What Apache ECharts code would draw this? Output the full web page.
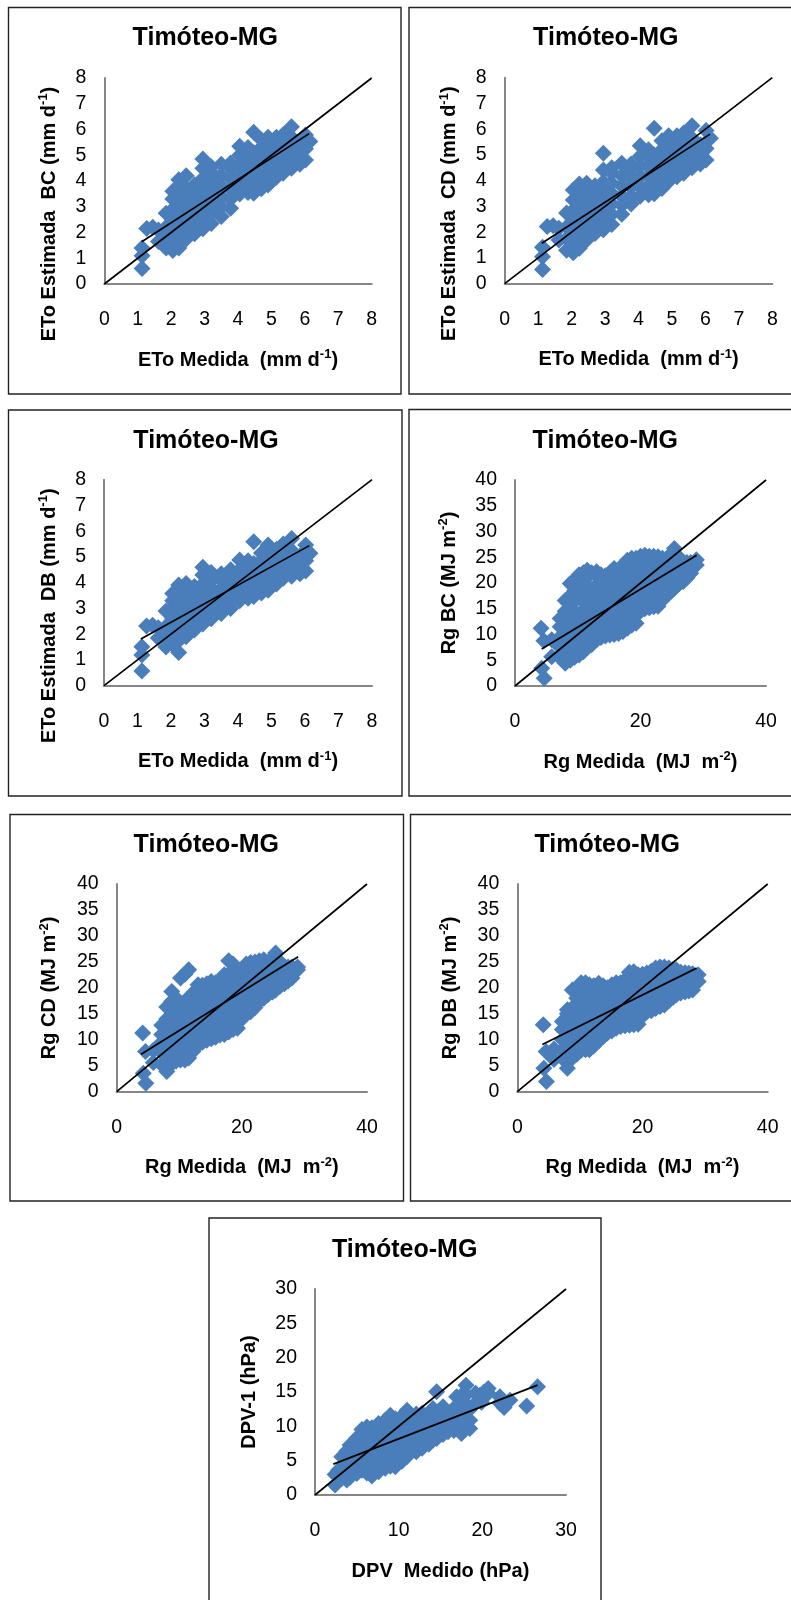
<!DOCTYPE html>
<html><head><meta charset="utf-8">
<style>html,body{margin:0;padding:0;background:#fff}#c{width:791px;height:1600px}</style>
<script src="https://cdn.jsdelivr.net/npm/echarts@6/dist/echarts.min.js"></script>
</head><body><div id="c"></div>
<script>
const chartTitle='Timóteo-MG';
// ETo: measured value of each column of points, then estimated values in that column
const etoX=[1.13,1.27,1.45,1.62,1.85,2.05,2.23,2.45,2.7,2.95,3.2,3.5,3.78,4.05,4.3,4.47,4.7,4.9,5.15,5.35,5.6,5.85,6.02,6.15];
const etoBC=[[0.6,1.1,1.4],[2.16],[2.2],[1.65,2.1],[1.4,1.8,2.2,2.75],[1.3,1.7,2.1,2.5,2.9,3.3,3.6],[1.4,1.8,2.2,2.6,3.0,3.4,3.8,4.05],[1.75,2.1,2.5,2.9,3.3,3.7,4.2],[1.95,2.35,2.75,3.15,3.55,3.85],[2.15,2.5,2.9,3.3,3.7,4.1,4.5,4.85],[2.35,2.75,3.15,3.55,3.95,4.35,4.55],[2.62,3.0,3.4,3.8,4.2,4.65],[2.94,3.3,3.7,4.1,4.5,4.7],[3.5,3.8,4.2,4.6,5.0,5.35],[3.55,3.95,4.35,4.75,5.15,5.3],[3.52,3.9,4.3,4.7,5.1,5.89],[3.7,4.1,4.5,4.9,5.3,5.6],[3.84,4.25,4.65,5.05,5.45,5.7],[4.15,4.55,4.95,5.35,5.7],[4.3,4.7,5.1,5.5,5.8],[4.5,4.9,5.3,5.7,6.11],[4.65,5.05,5.45],[4.82,5.25,5.79],[5.53]];
const etoCD=[[0.55,1.05,1.42],[2.22],[2.25],[1.7,2.15],[1.3,1.75,2.2,2.75],[1.2,1.65,2.05,2.45,2.85,3.25,3.64],[1.38,1.75,2.15,2.55,2.95,3.3,3.65,3.87],[1.7,2.1,2.5,2.9,3.25,3.6,3.9],[1.95,2.3,2.7,3.1,3.45,3.8],[2.1,2.5,2.85,3.25,3.6,3.95,4.42,5.07],[2.3,2.7,3.1,3.5,3.9,4.3,4.5],[2.7,3.05,3.4,3.8,4.2,4.68],[3.1,3.4,3.75,4.1,4.45,4.65],[3.4,3.75,4.15,4.55,4.95,5.36],[3.45,3.8,4.2,4.6,4.95,5.2],[3.49,3.85,4.25,4.65,5.0,6.04],[3.7,4.05,4.45,4.85,5.2,5.55],[3.97,4.35,4.7,5.1,5.45,5.75],[4.15,4.5,4.9,5.3,5.75],[4.29,4.65,5.05,5.45,5.85],[4.5,4.85,5.25,5.65,6.13],[4.65,5.0,5.4],[4.8,5.25,5.95],[5.65]];
const etoDB=[[0.57,1.19,1.51],[2.32],[2.35],[1.85,2.25],[1.5,1.9,2.3,2.9],[1.6,1.9,2.2,2.6,2.95,3.3,3.58],[1.29,1.75,2.15,2.5,2.85,3.2,3.55,3.91],[1.9,2.2,2.5,2.85,3.2,3.55,3.97],[2.16,2.45,2.8,3.1,3.45,3.85],[2.4,2.65,3.0,3.3,3.6,3.95,4.3,4.6],[2.6,2.9,3.2,3.5,3.8,4.1,4.4],[2.8,3.1,3.4,3.75,4.1,4.35],[3.0,3.3,3.6,3.95,4.3,4.5],[3.3,3.6,3.9,4.2,4.5,4.88],[3.4,3.7,4.0,4.3,4.6,4.85],[3.46,3.75,4.05,4.4,4.75,5.59],[3.6,3.9,4.2,4.55,4.85,5.15],[3.71,4.05,4.35,4.7,5.05,5.46],[3.95,4.3,4.6,4.95,5.3],[4.17,4.5,4.8,5.15,5.5],[4.25,4.6,4.9,5.25,5.72],[4.35,4.7,5.05],[4.45,4.85,5.46],[5.14]];
// Rg
const rgX=[4.15,4.25,4.6,4.65,5.85,7.2,8.0,8.8,9.5,10.2,10.9,11.5,12.2,13,13.7,14.4,15.1,15.8,16.5,17.2,17.9,18.6,19.3,20,20.7,21.4,22.1,22.8,23.5,24.2,24.9,25.4,26.1,26.8,27.4,28,28.9];
const rgBC=[[11.2],[3.43],[8.8],[1.5],[5.7,9.0],[5.5,7.5,9.5,11.5,13.1],[4.4,6.5,8.5,10.5,12.5,14.5,16.6],[5.0,7.5,9.5,11.5,13.5,15.5,17.5,19.9],[5.6,8.5,10.5,12.5,14.5,16.5,18.5,20.5],[6.0,7.5,9.5,11.5,13.5,17.5,19.5,21.6],[6.66,8.5,10.5,12.5,14.5,16.5,18.5,20.5,22],[7.5,9.5,11.5,13.5,15.5,17.5,19.5,22.5],[8,10.5,12.5,14.5,16.5,18.5,22],[9,11.5,13.5,15.5,17.5,19.5,21.5,22.2],[9.4,10.5,12.5,14.5,16.5,18.5,20.5,21.6],[9.7,11.5,13.5,15.5,17.5,19.5,21.4],[9.9,12.5,14.5,16.5,18.5,20.5,22],[10,11.5,13.5,15.5,17.5,19.5,21.5,22.8],[10.2,12.5,14.5,16.5,18.5,20.5,22.5],[10.6,11.5,13.5,15.5,17.5,19.5,21.5,23.5],[11.2,12.5,14.5,16.5,18.5,20.5,22.5,24.4],[11.8,13.5,15.5,17.5,19.5,21.5,23.5,24.8],[12.2,14.5,16.5,18.5,20.5,22.5,24.8],[14.5,15.5,17.5,19.5,21.5,23.5,25.2],[15,16.5,18.5,20.5,22.5,24.5,25.4],[15.2,17.5,19.5,21.5,23.5,25.2],[15.4,18.5,20.5,22.5,24.5,25.2],[15.5,17.5,19.5,21.5,23.5,25.1],[16.7,18.5,20.5,22.5,24.5,24.8],[17.6,19.5,21.5,23.5,24.8],[18.4,20.5,22.5,24.5,25.5],[19,21.5,23.5,26.7],[19.8,22.5,25],[20.3,21.5,24.1],[21,24],[21.9,24],[23.5,24.5]];
const rgCD=[[11.3],[3.56],[7.74],[1.63],[5.6,8.0],[5.2,7.5,9.5,11,12.8],[3.9,6,8,10,12,14,16.3],[5.4,7.5,9.5,11.5,13.5,15.5,17.4,19.3],[5.9,8.5,10.5,12.5,14.5,16.5,18],[6.1,7.5,9.5,11.5,13.5,15.5,17,21.9],[6.1,8.5,10.5,12.5,14.5,16.5,17.4,22.6],[6.5,7.5,9.5,11.5,13.5,15.5,17.5,23.5],[7.8,8.5,10.5,12.5,14.5,16.5,18.5,19],[9,9.5,11.5,13.5,15.5,17.5,19.5,20.6],[9.5,10.5,12.5,14.5,16.5,18.5,20.5],[9.9,11.5,13.5,15.5,17.5,19.5,20.8],[10.2,12.5,14.5,16.5,18.5,20.5,21.2],[10.5,11.5,13.5,15.5,17.5,19.5,21],[10.9,12.5,14.5,16.5,18.5,20.5,21.3],[11,13.5,15.5,17.5,19.5,21.5,22.5],[11.5,14.5,16.5,18.5,20.5,22.5,25.2],[12,13.5,15.5,17.5,19.5,21.5,23.5,24.6],[12.2,14.5,16.5,18.5,20.5,22.5,23.4],[14,15.5,17.5,19.5,21.5,23.5],[15,16.5,18.5,20.5,22.5,24.6],[15.4,17.5,19.5,21.5,23.5,24.9],[16.2,18.5,20.5,22.5,24.5,25],[17.5,19.5,21.5,23.5,25.2],[18,20.5,22.5,24.5,25.4],[18.7,19.5,21.5,23.5,25],[19.2,20.5,22.5,24.5,25.5],[19.6,21.5,23.5,26.7],[20.3,22.5,25],[20.8,22.5,24.1],[21.3,24],[21.9,24],[23.5,24]];
const rgDB=[[12.9],[4.5],[7.74],[1.96],[6.2,8.2],[6.45,8,10,12,13.5],[4.5,7,9,11,13,15,15.8],[6.5,8,10,12,14,16,19.6],[7.2,9,11,13,15,17,18],[8,10,12,14,16,18,21],[8.1,9,11,13,15,17,19,21],[8.06,10,12,14,16,18,20.6],[8.8,11,13,15,17,19,20.4],[9.8,10,12,14,16,18,20,20.9],[10.6,11,13,15,17,19,20.4],[11.3,12,14,16,18,20],[11.7,13,15,17,19,20.6],[12.2,14,16,18,20,21],[12.55,13,15,17,19,21],[12.7,14,16,18,20,21.5],[12.8,15,17,19,21,23],[12.9,14,16,18,20,22,23.1],[13,15,17,19,21,22.5],[14.6,16,18,20,22,22.6],[15.4,17,19,21,22.85],[15.6,18,20,22,23.2],[16,17,19,21,23,23.8],[16.4,18,20,22,24],[16.7,19,21,23,24],[17.5,18,20,22,23.8],[18.2,19,21,23,23.6],[18.65,20,22,23.5],[19,21,23],[19.2,20,22,22.9],[19.4,21,22.8],[19.6,21.5,22.7],[21.2,22.5]];
// DPV
const dpvX=[2.4,2.8,3.2,3.8,4.2,5.0,5.6,6.2,6.8,7.6,8.4,9.0,9.6,10.4,11.0,12.1,12.8,13.6,14.1,14.54,15.3,15.9,16.6,16.93,17.5,18.05,18.5,19.2,19.7,19.9,20.2,20.7,22.1,22.6,23.3,25.3,26.6];
const dpv1=[[1.44,3.0],[2.6,3.62],[2.4,3.8,5.57],[2.17,3.6,5.0,6.4],[2.6,4.0,5.4,6.8,7.27],[3.14,4.6,6,7.4,8.3],[3.6,5.0,6.4,7.8,9.55],[3.2,4.6,6,7.4,8.8,9.9],[2.75,4.2,5.6,7,8.4,9.8],[3.4,4.8,6.2,7.6,9,10.4],[3.9,5.3,6.7,8.1,9.5,10.9],[4.2,5.6,7,8.4,9.8,11.2,11.63],[4.1,5.5,6.9,8.3,9.7,11.1],[4.9,6.3,7.7,9.1,10.5,11.5],[5.6,7,8.4,9.8,11.2,12.36],[6.3,7.7,9.1,10.5,11.8],[6.8,8.2,9.6,11,11.9],[7.4,8.8,10.2,11.6],[8,9.4,10.8,12.2,12.6],[8.24,15.03],[8.8,10.2,11.6,12.85],[9.2,10.6,12.0],[9.4,10.8,12.2],[13,14.3],[8.96,10.4,11.8,13.2,14.5],[13.2,14.6,16],[9.7,10.9,12.5],[13.4,14.8],[14.5],[13.5],[15.0],[14.8,15.5],[13.4,14.3],[12.75],[13.8],[12.95],[15.76]];
// fitted lines: [x,y] end points
const fitBC=[[1.12,1.64],[6.13,5.84]], fitCD=[[1.11,1.57],[6.14,5.81]], fitDB=[[1.10,1.81],[6.13,5.44]];
const fitRgBC=[[4.25,7.2],[28.95,25.4]], fitRgCD=[[3.9,7.2],[29.0,26.0]], fitRgDB=[[4.0,9.1],[28.65,23.8]];
const fitDpv=[[2.19,4.5],[26.6,16.0]];
const oneToOneEto=[[0,0],[8,8]], oneToOneRg=[[0,0],[40,40]], oneToOneDpv=[[0,0],[30,30]];

const name=(a,sup,b)=>sup?`{b|${a}}{s|${sup}}{b|${b}}`:`{b|${a}}`;
const panels=[
 {g:[104.3,78,267.4,206],box:[8.5,7.5,392.5,386.5],t:[205.3,38],xs:etoX,ys:etoBC,fit:fitBC,one:oneToOneEto,max:[8,8],iv:[1,1],xn:name('ETo Medida  (mm d','-1',')'),yn:name('ETo Estimada  BC (mm d','-1',')'),yShift:66,gapY:43},
 {g:[504.7,77.7,267.6,206],box:[409,7.5,400,386.5],t:[605.8,38],xs:etoX,ys:etoCD,fit:fitCD,one:oneToOneEto,max:[8,8],iv:[1,1],xn:name('ETo Medida  (mm d','-1',')'),yn:name('ETo Estimada  CD (mm d','-1',')'),yShift:66,gapY:43},
 {g:[104,479.7,268,206],box:[8.5,410,393.5,386],t:[206,441],xs:etoX,ys:etoDB,fit:fitDB,one:oneToOneEto,max:[8,8],iv:[1,1],xn:name('ETo Medida  (mm d','-1',')'),yn:name('ETo Estimada  DB (mm d','-1',')'),yShift:66,gapY:43},
 {g:[515,480,251,206],box:[409,409.5,400,386.5],t:[605.3,441],xs:rgX,ys:rgBC,fit:fitRgBC,one:oneToOneRg,max:[40,40],iv:[20,5],xn:name('Rg Medida  (MJ  m','-2',')'),yn:name('Rg BC (MJ m','-2',')'),yShift:0,gapY:54},
 {g:[116.7,884,250.3,207.7],box:[10,814.5,393.5,386.5],t:[206.3,845],xs:rgX,ys:rgCD,fit:fitRgCD,one:oneToOneRg,max:[40,40],iv:[20,5],xn:name('Rg Medida  (MJ  m','-2',')'),yn:name('Rg CD (MJ m','-2',')'),yShift:0,gapY:55},
 {g:[517.3,884,250.4,207.7],box:[410.5,814.5,400,386.5],t:[607.2,845],xs:rgX,ys:rgDB,fit:fitRgDB,one:oneToOneRg,max:[40,40],iv:[20,5],xn:name('Rg Medida  (MJ  m','-2',')'),yn:name('Rg DB (MJ m','-2',')'),yShift:0,gapY:55},
 {g:[315,1289,251,206],box:[209,1218,392,420],t:[404.7,1250],xs:dpvX,ys:dpv1,fit:fitDpv,one:oneToOneDpv,max:[30,30],iv:[10,5],xn:name('DPV  Medido (hPa)'),yn:name('DPV-1 (hPa)'),yShift:0,gapY:54}
];
const font='"Liberation Sans",Arial,sans-serif';
const rich={b:{fontFamily:font,fontWeight:'bold',fontSize:20,color:'#000',lineHeight:24},s:{fontFamily:font,fontWeight:'bold',fontSize:13,color:'#000',verticalAlign:'top',lineHeight:24,padding:[0,0,6,0]}};
const axisBase={type:'value',splitLine:{show:false},axisTick:{show:false},axisLine:{onZero:false,lineStyle:{color:'#868686',width:2}},nameLocation:'middle',silent:true};
const option={animation:false,backgroundColor:'#fff',grid:[],xAxis:[],yAxis:[],series:[],title:[],graphic:[]};
panels.forEach((p,i)=>{
 option.grid.push({left:p.g[0],top:p.g[1],width:p.g[2],height:p.g[3],containLabel:false});
 option.title.push({text:chartTitle,left:p.t[0],top:p.t[1]-14,padding:0,textAlign:'center',textStyle:{fontFamily:font,fontWeight:'bold',fontSize:25,color:'#000',lineHeight:28}});
 option.xAxis.push({...axisBase,gridIndex:i,min:0,max:p.max[0],interval:p.iv[0],name:p.xn,nameGap:64,nameTextStyle:{rich},axisLabel:{fontFamily:font,fontSize:19.5,color:'#000',margin:26}});
 option.yAxis.push({...axisBase,gridIndex:i,min:0,max:p.max[1],interval:p.iv[1],name:p.yn,nameGap:p.gapY,nameTextStyle:{rich,padding:[0,p.yShift,0,0]},axisLabel:{fontFamily:font,fontSize:19.5,color:'#000',margin:18}});
 option.series.push({type:'scatter',xAxisIndex:i,yAxisIndex:i,symbol:'diamond',symbolSize:17,itemStyle:{color:'#4a7ebb',opacity:1},silent:true,data:p.ys.flatMap((col,k)=>col.map(y=>[p.xs[k],y]))});
 [p.one,p.fit].forEach(d=>option.series.push({type:'line',xAxisIndex:i,yAxisIndex:i,data:d,showSymbol:false,symbol:'none',clip:false,silent:true,z:5,lineStyle:{color:'#000',width:1.7}}));
 option.graphic.push({type:'rect',silent:true,shape:{x:p.box[0],y:p.box[1],width:p.box[2],height:p.box[3]},style:{fill:'none',stroke:'#222',lineWidth:1.4}});
});
const chart=echarts.init(document.getElementById('c'),null,{renderer:'canvas'});
chart.setOption(option);
</script></body></html>
